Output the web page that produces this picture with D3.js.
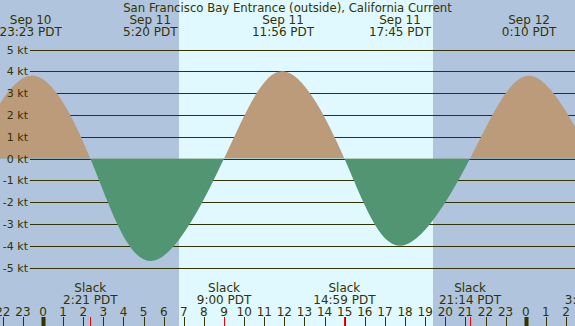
<!DOCTYPE html>
<html>
<head>
<meta charset="utf-8">
<script src="https://cdn.jsdelivr.net/npm/d3@7"></script>
<style>
  body { margin: 0; background: #e0f8ff; }
  text { font-family: "DejaVu Sans", sans-serif; fill: #333300; }
</style>
</head>
<body>
<div id="chart"></div>
<script>
// tide current events (hours are local PDT)
const eventDay   = [10, 10, 11, 11, 11, 11, 11, 11, 11, 12, 12];
const eventTime  = ["20:25", "23:23", "2:21", "5:20", "9:00", "11:56", "14:59", "17:45", "21:14", "0:10", "3:18"];
const eventSpeed = [0, 3.8, 0, -4.7, 0, 4.0, 0, -4.0, 0, 3.8, 0];

// sunrise / sunset on Sep 11
const sunDay  = [11, 11];
const sunTime = ["6:46", "19:23"];

const speedTicks = [5, 4, 3, 2, 1, 0, -1, -2, -3, -4, -5];
const hourTicks = d3.range(-2, 28); // 22 on Sep 10 .. 3 on Sep 12

const title = "San Francisco Bay Entrance (outside), California Current";

const width = 575, height = 326;

// hours since Sep 11 0:00
function toHours(day, t) {
  const [h, m] = t.split(":").map(Number);
  return (day - 11) * 24 + h + m / 60;
}

const events = eventTime.map((t, i) => ({
  day: eventDay[i], time: t, hrs: toHours(eventDay[i], t), speed: eventSpeed[i]
}));

const x = d3.scaleLinear()
    .domain([-2.14, 26.45])
    .range([0, width]);

const y = d3.scaleLinear()
    .domain([-5, 5])
    .range([267.5, 49.5]);

const svg = d3.select("#chart")
  .append("svg")
    .attr("width", width)
    .attr("height", height);

// night shading
const sunrise = toHours(sunDay[0], sunTime[0]);
const sunset = toHours(sunDay[1], sunTime[1]);
svg.append("rect")
    .attr("x", 0).attr("y", 0)
    .attr("width", Math.round(x(sunrise))).attr("height", height)
    .attr("fill", "#b0c4de");
svg.append("rect")
    .attr("x", Math.round(x(sunset))).attr("y", 0)
    .attr("width", width - Math.round(x(sunset))).attr("height", height)
    .attr("fill", "#b0c4de");

// grid lines
svg.selectAll(".grid")
  .data(speedTicks)
  .enter().append("line")
    .attr("x1", 30).attr("x2", width)
    .attr("y1", d => Math.round(y(d)) + 0.5)
    .attr("y2", d => Math.round(y(d)) + 0.5)
    .attr("stroke", "#333300")
    .attr("stroke-width", 1);

// current area, split at zero
const area = d3.area()
    .x(d => x(d.hrs))
    .y0(y(0))
    .y1(d => y(d.speed))
    .curve(d3.curveNatural);

const defs = svg.append("defs");
defs.append("clipPath").attr("id", "above")
  .append("rect").attr("x", 0).attr("y", 0).attr("width", width).attr("height", y(0));
defs.append("clipPath").attr("id", "below")
  .append("rect").attr("x", 0).attr("y", y(0)).attr("width", width).attr("height", height - y(0));

svg.append("path")
    .datum(events)
    .attr("d", area)
    .attr("fill", "#bc9b7b")
    .attr("clip-path", "url(#above)");

svg.append("path")
    .datum(events)
    .attr("d", area)
    .attr("fill", "#529572")
    .attr("clip-path", "url(#below)");

// y labels
svg.selectAll(".ylab")
  .data(speedTicks)
  .enter().append("text")
    .attr("x", 28)
    .attr("y", d => y(d) + 4)
    .attr("text-anchor", "end")
    .attr("font-size", 11)
    .text(d => d + " kt");

// title
svg.append("text")
    .attr("x", width / 2)
    .attr("y", 12)
    .attr("text-anchor", "middle")
    .attr("font-size", 11.7)
    .text(title);

const inView = d => d.hrs >= x.domain()[0];

// max flood / ebb labels on top
const peaks = svg.selectAll(".peak")
  .data(events.filter(d => d.speed !== 0 && inView(d)))
  .enter().append("text")
    .attr("text-anchor", "middle")
    .attr("font-size", 12);
peaks.append("tspan")
    .attr("x", d => x(d.hrs)).attr("y", 24)
    .text(d => "Sep " + d.day);
peaks.append("tspan")
    .attr("x", d => x(d.hrs)).attr("y", 36)
    .text(d => d.time + " PDT");

// slack labels at bottom
const slacks = svg.selectAll(".slack")
  .data(events.filter(d => d.speed === 0 && inView(d)))
  .enter().append("text")
    .attr("text-anchor", "middle")
    .attr("font-size", 12);
slacks.append("tspan")
    .attr("x", d => x(d.hrs)).attr("y", 292)
    .text("Slack");
slacks.append("tspan")
    .attr("x", d => x(d.hrs)).attr("y", 304)
    .text(d => d.time + " PDT");

// hour labels and ticks
svg.selectAll(".hlab")
  .data(hourTicks)
  .enter().append("text")
    .attr("x", d => x(d))
    .attr("y", 316)
    .attr("text-anchor", "middle")
    .attr("font-size", 12)
    .text(d => ((d % 24) + 24) % 24);

svg.selectAll(".htick")
  .data(hourTicks)
  .enter().append("line")
    .attr("x1", d => Math.round(x(d)) + 0.5)
    .attr("x2", d => Math.round(x(d)) + 0.5)
    .attr("y1", 317).attr("y2", height)
    .attr("stroke", "#333300")
    .attr("stroke-width", d => d % 24 === 0 ? 4 : 1);

svg.selectAll(".stick")
  .data(events.filter(d => d.speed === 0 && inView(d)))
  .enter().append("line")
    .attr("x1", d => Math.round(x(d.hrs)) + 0.5)
    .attr("x2", d => Math.round(x(d.hrs)) + 0.5)
    .attr("y1", 317).attr("y2", height)
    .attr("stroke", "red")
    .attr("stroke-width", 1);
</script>
</body>
</html>
